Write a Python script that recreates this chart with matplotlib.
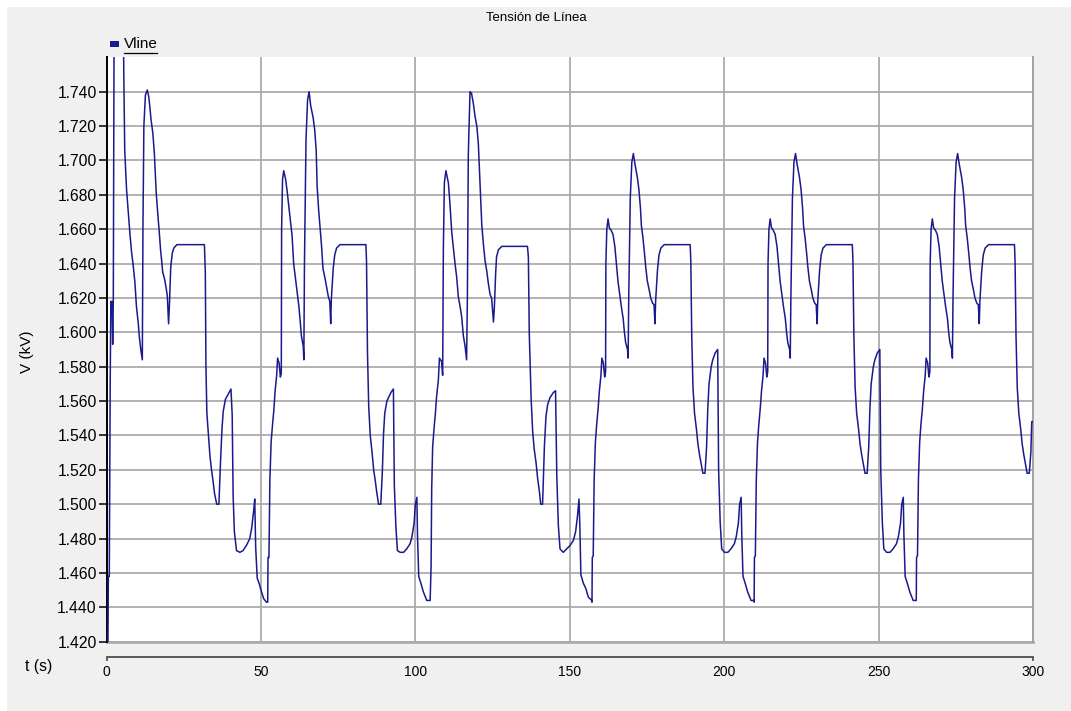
import numpy as np
import matplotlib
matplotlib.use("Agg")
import matplotlib.pyplot as plt
from matplotlib.patches import Rectangle
from matplotlib.lines import Line2D

# Text of the chart
title = "Tensión de Línea"
series_name = "Vline"
y_label = "V (kV)"
x_label = "t (s)"
x_ticks = [0, 50, 100, 150, 200, 250, 300]
y_ticks = [1.420, 1.440, 1.460, 1.480, 1.500, 1.520, 1.540, 1.560, 1.580,
           1.600, 1.620, 1.640, 1.660, 1.680, 1.700, 1.720, 1.740]

# Vline readings (t in s, V in kV), one list per cycle
cycle_1 = [(0.4, 1.400), (0.6, 1.458), (0.9, 1.458), (1.2, 1.570), (1.4, 1.618),
           (1.8, 1.618), (2.0, 1.593), (2.2, 1.618), (2.5, 1.800), (5.4, 1.800),
           (5.6, 1.750), (5.9, 1.706), (6.5, 1.683), (7.1, 1.669), (7.6, 1.657),
           (8.1, 1.647), (8.7, 1.638), (9.2, 1.629), (9.7, 1.615), (10.3, 1.605),
           (10.6, 1.598), (11.1, 1.590), (11.6, 1.584), (11.8, 1.660), (12.1, 1.720),
           (12.6, 1.738), (13.2, 1.741), (13.7, 1.737), (14.1, 1.730), (14.4, 1.724),
           (15.0, 1.716), (15.5, 1.704), (16.1, 1.681), (16.6, 1.669), (17.1, 1.658),
           (17.5, 1.648), (17.9, 1.641), (18.2, 1.635), (18.8, 1.631), (19.3, 1.626),
           (19.7, 1.621), (20.1, 1.605), (20.4, 1.617), (20.8, 1.638), (21.3, 1.646),
           (21.8, 1.649), (22.8, 1.651), (31.7, 1.651), (32.0, 1.635), (32.2, 1.580),
           (32.5, 1.553), (33.1, 1.538), (33.5, 1.528), (34.0, 1.520), (34.6, 1.512),
           (35.0, 1.506), (35.7, 1.500), (36.4, 1.500), (36.9, 1.524), (37.4, 1.544),
           (37.8, 1.554), (38.5, 1.561), (39.4, 1.564), (40.3, 1.567), (40.7, 1.552),
           (41.0, 1.505), (41.4, 1.484), (42.1, 1.473), (43.2, 1.472), (44.2, 1.473),
           (45.3, 1.476), (46.4, 1.480), (47.0, 1.486), (47.7, 1.497), (48.0, 1.503),
           (48.3, 1.475), (48.8, 1.457), (49.4, 1.454), (50.2, 1.449), (50.9, 1.445),
           (51.8, 1.443)]

cycle_2 = [(52.2, 1.443), (52.3, 1.469), (52.6, 1.469), (52.9, 1.514), (53.3, 1.536),
           (53.7, 1.545), (54.2, 1.555), (54.6, 1.566), (55.1, 1.575), (55.4, 1.585),
           (55.9, 1.582), (56.3, 1.574), (56.6, 1.576), (56.7, 1.660), (57.0, 1.689),
           (57.4, 1.694), (58.0, 1.689), (58.5, 1.682), (59.0, 1.674), (59.6, 1.664),
           (60.1, 1.656), (60.6, 1.640), (61.2, 1.631), (61.7, 1.624), (62.3, 1.615),
           (62.7, 1.607), (63.1, 1.598), (63.7, 1.592), (63.9, 1.584), (64.1, 1.640),
           (64.6, 1.712), (65.1, 1.735), (65.6, 1.740), (66.1, 1.732), (66.9, 1.725),
           (67.4, 1.718), (67.9, 1.706), (68.2, 1.685), (68.7, 1.671), (69.2, 1.660),
           (69.6, 1.651), (70.1, 1.637), (70.8, 1.631), (71.2, 1.627), (71.8, 1.621),
           (72.3, 1.618), (72.6, 1.605), (72.8, 1.619), (73.4, 1.637), (73.9, 1.645),
           (74.5, 1.649), (75.6, 1.651), (84.0, 1.651), (84.2, 1.641), (84.5, 1.589),
           (84.9, 1.557), (85.4, 1.540), (86.0, 1.530), (86.5, 1.520), (87.0, 1.514),
           (87.5, 1.507), (88.1, 1.500), (88.8, 1.500), (89.3, 1.518), (89.7, 1.541),
           (90.1, 1.553), (90.8, 1.560), (91.3, 1.562), (92.1, 1.565), (92.9, 1.567),
           (93.2, 1.511), (93.7, 1.487), (94.2, 1.473), (95.1, 1.472), (96.2, 1.472),
           (97.2, 1.474), (98.3, 1.477), (98.9, 1.481), (99.6, 1.489), (100.0, 1.500),
           (100.5, 1.504), (100.7, 1.482), (101.1, 1.458), (101.8, 1.454), (102.6, 1.449),
           (103.7, 1.444), (104.8, 1.444)]

cycle_3 = [(105.1, 1.464), (105.3, 1.509), (105.6, 1.533), (106.05, 1.544), (106.5, 1.553),
           (106.9, 1.563), (107.45, 1.572), (107.8, 1.585), (108.5, 1.583), (108.85, 1.575),
           (109.07, 1.648), (109.4, 1.687), (109.9, 1.694), (110.7, 1.687), (111.2, 1.675),
           (111.8, 1.658), (112.85, 1.640), (113.4, 1.632), (113.9, 1.621), (114.5, 1.615),
           (115.0, 1.609), (115.55, 1.598), (116.1, 1.592), (116.6, 1.584), (116.85, 1.619),
           (117.15, 1.703), (117.7, 1.740), (118.2, 1.739), (118.8, 1.733), (119.3, 1.726),
           (119.9, 1.720), (120.4, 1.710), (120.9, 1.688), (121.5, 1.663), (122.0, 1.652),
           (122.55, 1.642), (123.1, 1.636), (123.6, 1.629), (124.2, 1.622), (124.7, 1.620),
           (125.3, 1.606), (125.6, 1.615), (126.0, 1.634), (126.3, 1.644), (126.9, 1.648),
           (128.0, 1.650), (136.3, 1.650), (136.6, 1.644), (136.9, 1.599), (137.5, 1.561),
           (138.0, 1.542), (138.5, 1.532), (139.1, 1.524), (139.6, 1.515), (140.2, 1.507),
           (140.6, 1.500), (141.2, 1.500), (141.8, 1.534), (142.3, 1.551), (142.85, 1.558),
           (143.6, 1.562), (144.7, 1.565), (145.4, 1.566), (145.8, 1.517), (146.3, 1.488),
           (146.85, 1.474), (147.9, 1.472), (149.0, 1.474), (150.1, 1.476), (151.2, 1.479),
           (151.9, 1.484), (152.5, 1.493), (153.0, 1.503), (153.3, 1.485), (153.6, 1.459),
           (154.4, 1.454), (155.2, 1.451), (156.0, 1.446), (157.1, 1.444)]

cycle_4 = [(157.2, 1.443), (157.3, 1.469), (157.6, 1.470), (157.9, 1.514), (158.3, 1.536),
           (158.7, 1.546), (159.2, 1.556), (159.6, 1.566), (160.1, 1.575), (160.4, 1.585),
           (160.9, 1.582), (161.3, 1.574), (161.6, 1.577), (161.7, 1.640), (162.0, 1.660),
           (162.4, 1.666), (162.8, 1.661), (163.5, 1.659), (164.0, 1.657), (164.6, 1.650),
           (165.1, 1.640), (165.6, 1.630), (166.2, 1.622), (166.7, 1.615), (167.3, 1.608),
           (167.7, 1.600), (168.1, 1.594), (168.7, 1.590), (168.9, 1.585), (169.1, 1.620),
           (169.6, 1.678), (170.1, 1.699), (170.6, 1.704), (171.1, 1.698), (171.9, 1.690),
           (172.4, 1.683), (172.9, 1.672), (173.2, 1.662), (173.7, 1.655), (174.2, 1.646),
           (174.6, 1.638), (175.1, 1.630), (175.8, 1.624), (176.2, 1.620), (176.8, 1.617),
           (177.3, 1.616), (177.6, 1.605), (177.8, 1.618), (178.4, 1.636), (178.9, 1.645),
           (179.5, 1.649), (180.6, 1.651), (189.0, 1.651), (189.2, 1.641), (189.5, 1.598),
           (189.9, 1.568), (190.4, 1.553), (191.0, 1.544), (191.5, 1.535), (192.0, 1.529),
           (192.5, 1.524), (193.1, 1.518), (193.8, 1.518), (194.3, 1.533), (194.7, 1.556),
           (195.1, 1.570), (195.8, 1.580), (196.3, 1.584), (197.1, 1.588), (197.9, 1.590),
           (198.2, 1.520), (198.7, 1.490), (199.2, 1.474), (200.1, 1.472), (201.2, 1.472),
           (202.2, 1.474), (203.3, 1.477), (203.9, 1.481), (204.6, 1.489), (205.0, 1.500),
           (205.5, 1.504), (205.7, 1.482), (206.1, 1.458), (206.8, 1.454), (207.6, 1.449),
           (208.7, 1.444), (209.6, 1.444)]

cycle_5 = [(209.7, 1.443), (209.8, 1.469), (210.1, 1.470), (210.4, 1.514), (210.8, 1.536),
           (211.2, 1.546), (211.7, 1.556), (212.1, 1.566), (212.6, 1.575), (212.9, 1.585),
           (213.4, 1.582), (213.8, 1.574), (214.1, 1.577), (214.2, 1.640), (214.5, 1.660),
           (214.9, 1.666), (215.3, 1.661), (216.0, 1.659), (216.5, 1.657), (217.1, 1.650),
           (217.6, 1.640), (218.1, 1.630), (218.7, 1.622), (219.2, 1.615), (219.8, 1.608),
           (220.2, 1.600), (220.6, 1.594), (221.2, 1.590), (221.4, 1.585), (221.6, 1.620),
           (222.1, 1.678), (222.6, 1.699), (223.1, 1.704), (223.6, 1.698), (224.4, 1.690),
           (224.9, 1.683), (225.4, 1.672), (225.7, 1.662), (226.2, 1.655), (226.7, 1.646),
           (227.1, 1.638), (227.6, 1.630), (228.3, 1.624), (228.7, 1.620), (229.3, 1.617),
           (229.8, 1.616), (230.1, 1.605), (230.3, 1.618), (230.9, 1.636), (231.4, 1.645),
           (232.0, 1.649), (233.1, 1.651), (241.5, 1.651), (241.7, 1.641), (242.0, 1.598),
           (242.4, 1.568), (242.9, 1.553), (243.5, 1.544), (244.0, 1.535), (244.5, 1.529),
           (245.0, 1.524), (245.6, 1.518), (246.3, 1.518), (246.8, 1.533), (247.2, 1.556),
           (247.6, 1.570), (248.3, 1.580), (248.8, 1.584), (249.6, 1.588), (250.4, 1.590),
           (250.7, 1.520), (251.2, 1.490), (251.7, 1.474), (252.6, 1.472), (253.7, 1.472),
           (254.7, 1.474), (255.8, 1.477), (256.4, 1.481), (257.1, 1.489), (257.5, 1.500),
           (258.0, 1.504), (258.2, 1.482), (258.6, 1.458), (259.3, 1.454), (260.1, 1.449),
           (261.2, 1.444), (262.1, 1.444)]

cycle_6 = [(262.2, 1.444), (262.3, 1.469), (262.6, 1.470), (262.9, 1.514), (263.3, 1.536),
           (263.7, 1.546), (264.2, 1.556), (264.6, 1.566), (265.1, 1.575), (265.4, 1.585),
           (265.9, 1.582), (266.3, 1.574), (266.6, 1.577), (266.7, 1.640), (267.0, 1.660),
           (267.4, 1.666), (267.8, 1.661), (268.5, 1.659), (269.0, 1.657), (269.6, 1.650),
           (270.1, 1.640), (270.6, 1.630), (271.2, 1.622), (271.7, 1.615), (272.3, 1.608),
           (272.7, 1.600), (273.1, 1.594), (273.7, 1.590), (273.9, 1.585), (274.1, 1.620),
           (274.6, 1.678), (275.1, 1.699), (275.6, 1.704), (276.1, 1.698), (276.9, 1.690),
           (277.4, 1.683), (277.9, 1.672), (278.2, 1.662), (278.7, 1.655), (279.2, 1.646),
           (279.6, 1.638), (280.1, 1.630), (280.8, 1.624), (281.2, 1.620), (281.8, 1.617),
           (282.3, 1.616), (282.6, 1.605), (282.8, 1.618), (283.4, 1.636), (283.9, 1.645),
           (284.5, 1.649), (285.6, 1.651), (294.0, 1.651), (294.2, 1.641), (294.5, 1.598),
           (294.9, 1.568), (295.4, 1.553), (296.0, 1.544), (296.5, 1.535), (297.0, 1.529),
           (297.5, 1.524), (298.1, 1.518), (298.8, 1.518), (299.3, 1.530), (299.6, 1.548),
           (300.0, 1.548)]

cycles = [cycle_1, cycle_2, cycle_3, cycle_4, cycle_5, cycle_6]

W, H = 1071, 711
fig = plt.figure(figsize=(W / 100, H / 100), dpi=100, facecolor="white")
plt.rcParams["font.family"] = ["Liberation Sans", "DejaVu Sans"]

# grey panel behind everything (thin white strip on top and left)
fig.patches.append(Rectangle((7 / W, 0), 1 - 7 / W, 1 - 7 / H, transform=fig.transFigure,
                             facecolor="#f0f0f0", edgecolor="none", zorder=-5))

left, right, top, bottom = 106.5, 1033.0, 57.3, 641.7
ax = fig.add_axes([left / W, 1 - bottom / H, (right - left) / W, (bottom - top) / H])
ax.set_facecolor("white")

t = np.array([p[0] for c in cycles for p in c])
v = np.array([p[1] for c in cycles for p in c])
ax.plot(t, v, color="#1a1a8c", lw=1.1, zorder=3)

ax.set_xlim(0, 300)
ax.set_ylim(1.42, 1.76)
ax.set_xticks(x_ticks)
ax.set_xticklabels([str(x) for x in x_ticks], fontsize=11.3)
ax.set_yticks(y_ticks)
ax.set_yticklabels(["%.3f" % y for y in y_ticks], fontsize=11.3)
ax.grid(True, color="#ababab", lw=1.3)
ax.set_axisbelow(True)

ax.spines["top"].set_visible(False)
ax.spines["right"].set_color("#a0a0a0")
ax.spines["right"].set_linewidth(1.3)
ax.spines["left"].set_color("black")
ax.spines["left"].set_linewidth(1.4)
ax.spines["bottom"].set_position(("outward", 11))
ax.spines["bottom"].set_color("#404040")
ax.spines["bottom"].set_linewidth(1.2)
ax.spines["bottom"].set_bounds(0, 300)

ax.tick_params(axis="y", length=6, width=1.1, color="black", pad=1)
ax.tick_params(axis="x", which="major", length=0, pad=6)
ax.xaxis.remove_overlapping_locs = False
ax.set_xticks([0, 300], minor=True)
ax.tick_params(axis="x", which="minor", length=3, width=1.1, color="#404040")

# bottom border of the plot area
ax.axhline(1.42, color="#ababab", lw=2.0, clip_on=False, zorder=1)

fig.text(536 / W, 1 - 18 / H, title, ha="center", va="center", fontsize=9.5)
fig.text(27 / W, 1 - 352 / H, y_label, ha="center", va="center", rotation=90, fontsize=11)
fig.text(25 / W, 1 - 667 / H, x_label, ha="left", va="center", fontsize=11.3)

# legend entry
fig.patches.append(Rectangle((110 / W, 1 - 46.7 / H), 9 / W, 6 / H, transform=fig.transFigure,
                             facecolor="#1a1a8c", edgecolor="none"))
fig.text(124 / W, 1 - 44 / H, series_name, ha="left", va="center", fontsize=11)
fig.add_artist(Line2D([124 / W, 157 / W], [1 - 52.5 / H, 1 - 52.5 / H], color="black", lw=0.9))

fig.savefig("out.png", dpi=100, facecolor=fig.get_facecolor())
